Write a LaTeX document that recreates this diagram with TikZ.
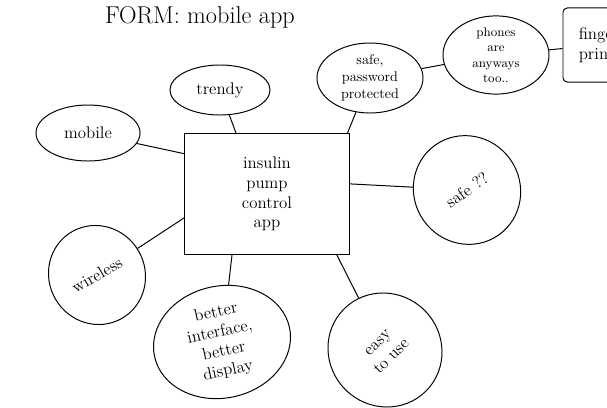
\documentclass[tikz,border=0pt]{standalone}
\usetikzlibrary{shapes.geometric}
\tikzset{
  bubble/.style={draw, ellipse, line width=0.7pt, inner sep=0pt, align=center, font=\large},
  corebox/.style={draw, line width=0.7pt, minimum width=4.1cm, minimum height=3cm, align=center, font=\large},
  sidebox/.style={draw, rounded corners=3pt, line width=0.7pt, align=left, font=\large},
  link/.style={line width=0.7pt}
}
\begin{document}
\begin{tikzpicture}[x=0.025cm, y=-0.025cm]
  \useasboundingbox (0,0) rectangle (607,408);
  \clip (0,0) rectangle (607,408);
  \node[font=\LARGE] (title) at (200,17) {FORM: mobile app};
  \node[corebox] (app) at (267,194) {insulin\\ pump\\ control\\ app};
  \node[bubble, minimum width=2.5cm, minimum height=1.25cm] (trendy) at (220,90) {trendy};
  \node[bubble, minimum width=2.6cm, minimum height=1.4cm] (mobile) at (88,133) {mobile};
  \node[bubble, font=\normalsize, minimum width=2.65cm, minimum height=1.75cm] (safepw) at (370,78) {safe,\\ password\\ protected};
  \node[bubble, font=\small, minimum width=2.65cm, minimum height=1.6cm] (phones) at (496,55) {phones\\ are\\ anyways\\ too..};
  \node[sidebox, minimum width=1.8cm, minimum height=1.85cm] (finger) at (599,45) {finger\\ print};
  \node[bubble, rotate=35, minimum width=2.65cm, minimum height=2.75cm] (safeq) at (467,190) {safe ??};
  \node[bubble, rotate=30, minimum width=2.4cm, minimum height=2.5cm] (wireless) at (97,275) {wireless};
  \node[bubble, rotate=12, minimum width=3.45cm, minimum height=2.8cm] (better) at (222,342) {better\\ interface,\\ better\\ display};
  \node[bubble, rotate=45, minimum width=2.8cm, minimum height=2.9cm] (easy) at (385,350) {easy\\ to use};

  \draw[link] (trendy) -- (app.117);
  \draw[link] (mobile) -- (app.154);
  \draw[link] (safepw) -- (app.37);
  \draw[link] (safepw) -- (phones);
  \draw[link] (phones) -- (finger);
  \draw[link] (safeq) -- (app.7);
  \draw[link] (wireless) -- (app.196);
  \draw[link] (better) -- (app.240);
  \draw[link] (easy) -- (app.319);
\end{tikzpicture}
\end{document}
